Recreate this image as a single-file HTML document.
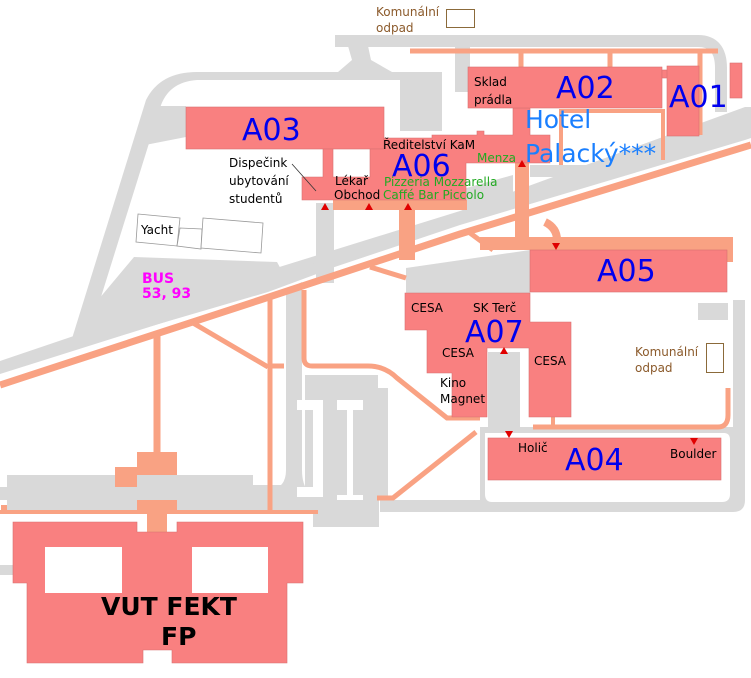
<!DOCTYPE html>
<html><head><meta charset="utf-8"><style>
html,body{margin:0;padding:0;background:#fff;}
svg{display:block;}
text{font-family:"DejaVu Sans","Liberation Sans",sans-serif;}
</style></head><body>
<svg width="751" height="678" viewBox="0 0 751 678" xmlns="http://www.w3.org/2000/svg">
<!-- GREY ROADS -->
<g fill="#d9d9d9" stroke="none">
  <path d="M335 41 L698 41 Q721 41 721 68 L721 112" fill="none" stroke="#d9d9d9" stroke-width="12"/>
  <polygon points="348,46 368,46 371,60 392,72 338,72 352,60"/>
  <rect x="197" y="72" width="245" height="8"/>
  <rect x="400" y="72" width="42" height="59"/>
  <rect x="455" y="45" width="15" height="47"/>
  <!-- left road -->
  <path d="M197 72 Q160 72 146 100 L70 345 L86 345 L160 108 Q168 82 197 80 Z"/>
  <polygon points="150,106 186,106 186,137 140,146"/>
  <!-- main diagonal road -->
  <polygon points="0,361 260,273 460,211 745,107 751,107 751,138 745,140 460,225 260,292 0,374"/>
  <!-- BUS area -->
  <polygon points="134,257 277,262 283,273 320,262 322,272 268,292 70,350 98,300"/>
  <rect x="316" y="203" width="18" height="80"/>
  <polygon points="466,188 513,175 513,200 466,215"/>
  <rect x="530" y="165" width="63" height="12"/>
  <polygon points="406,268 530,250 530,293 406,293"/>
  <path d="M286 290 L302 282 L302 470 Q302 500 330 500 L330 512 L270 512 L270 490 Q286 488 286 470 Z"/>
  <polygon points="305,375 378,375 378,388 388,388 388,500 379,500 379,527 313,527 313,510 305,505"/>
  <rect x="488" y="352" width="32" height="80"/>
  <path d="M480 427 L733 427 L733 300 L745 300 L745 500 Q745 512 733 512 L380 512 L380 500 L480 500 Z"/>
  <rect x="698" y="303" width="30" height="17"/>
  <rect x="7" y="475" width="246" height="36"/>
  <rect x="0" y="487" width="8" height="13"/>
  <rect x="250" y="485" width="40" height="27"/>
  <rect x="0" y="565" width="14" height="10"/>
</g>
<g fill="#fff">
  <path d="M485 433 L724 433 Q730 433 730 440 L730 494 Q730 502 722 502 L492 502 Q485 502 485 494 Z"/>
  <path d="M297 400 L323 400 L323 487 L323 497 L297 497 L297 487 L313 487 L313 410 L297 410 Z"/>
  <path d="M337 400 L363 400 L363 410 L353 410 L353 495 L363 495 L363 500 L337 500 L337 495 L347 495 L347 410 L337 410 Z"/>
</g>
<!-- SALMON PATHS -->
<g fill="none" stroke="#f9a283" stroke-linecap="butt">
  <polyline points="0,385 260,300 460,234 751,145" stroke-width="7"/>
  <line x1="410" y1="51" x2="718" y2="51" stroke-width="5"/>
  <line x1="521" y1="50" x2="521" y2="68" stroke-width="5"/>
  <line x1="610" y1="50" x2="610" y2="68" stroke-width="5"/>
  <line x1="700" y1="52" x2="700" y2="135" stroke-width="5"/>
  <polyline points="561,165 561,111 663,111 663,160" stroke-width="4"/>
  <line x1="522" y1="160" x2="522" y2="245" stroke-width="14"/>
  <line x1="407" y1="200" x2="407" y2="260" stroke-width="16"/>
  <line x1="333" y1="205" x2="467" y2="205" stroke-width="10"/>
  <rect x="480" y="237" width="253" height="13" fill="#f9a283" stroke="none"/>
  <line x1="730" y1="240" x2="730" y2="262" stroke-width="6"/>
  <path d="M545 222 Q557 228 557 240" stroke-width="8"/>
  <line x1="470" y1="233" x2="493" y2="250" stroke-width="5"/>
  <line x1="370" y1="267" x2="406" y2="278" stroke-width="5"/>
  <line x1="157" y1="335" x2="157" y2="455" stroke-width="7"/>
  <line x1="270" y1="295" x2="270" y2="513" stroke-width="5"/>
  <line x1="193" y1="323" x2="268" y2="367" stroke-width="5"/>
  <line x1="270" y1="366" x2="284" y2="366" stroke-width="5"/>
  <path d="M304 290 L304 358 Q304 366 312 366 L368 366 Q385 366 397 378 L447 418 L480 418" stroke-width="5"/>
  <path d="M533 427 L718 427 Q728 427 728 415 L728 388" stroke-width="5"/>
  <line x1="553" y1="417" x2="553" y2="427" stroke-width="4"/>
  <polyline points="377,498 393,498 476,432" stroke-width="5"/>
  <line x1="0" y1="512" x2="318" y2="512" stroke-width="4"/>
  <line x1="4" y1="505" x2="4" y2="512" stroke-width="6"/>
</g>
<g fill="#f9a283">
  <rect x="137" y="452" width="40" height="23"/>
  <rect x="137" y="500" width="40" height="11"/>
  <rect x="115" y="467" width="22" height="20"/>
  <rect x="147" y="511" width="20" height="22"/>
</g>
<!-- BUILDINGS -->
<g fill="#f98080" stroke="#d87070" stroke-width="0.6">
  <rect x="186" y="107" width="198" height="42"/>
  <polygon points="384,138 432,138 432,135 477,135 477,131 484,131 484,135 513,135 513,108 530,108 530,135 550,135 550,163 466,163 466,200 302,200 302,177 323,177 323,149 333,149 333,177 370,177 370,149 384,149"/>
  <rect x="468" y="67" width="194" height="41"/>
  <rect x="662" y="70" width="6" height="8"/>
  <rect x="667" y="66" width="32" height="70"/>
  <rect x="730" y="63" width="12" height="35"/>
  <rect x="530" y="250" width="197" height="42"/>
  <polygon points="405,293 530,293 530,322 571,322 571,417 529,417 529,348 487,348 487,417 452,417 452,373 427,373 427,330 405,330"/>
  <rect x="488" y="438" width="233" height="42"/>
  <polygon points="13,522 137,522 137,532 177,532 177,522 303,522 303,583 287,583 287,663 172,663 172,650 143,650 143,663 27,663 27,583 13,583"/>
</g>
<g fill="#fff">
  <rect x="45" y="547" width="77" height="46"/>
  <rect x="192" y="547" width="76" height="46"/>
</g>
<g fill="#fff" stroke="#999" stroke-width="0.8">
  <polygon points="138,214 180,218 177,246 136,242"/>
  <polygon points="180,228 202,229 201,249 177,246"/>
  <polygon points="203,218 263,223 261,253 201,248"/>
</g>
<rect x="446.5" y="9.5" width="28" height="18" fill="none" stroke="#8b6a3a" stroke-width="1"/>
<rect x="706.5" y="343.5" width="17" height="29" fill="none" stroke="#8b6a3a" stroke-width="1"/>
<line x1="292" y1="164" x2="316" y2="191" stroke="#333" stroke-width="0.8"/>
<g fill="#e00000">
  <polygon points="321,210 325,203 329,210"/>
  <polygon points="365,210 369,203 373,210"/>
  <polygon points="404,210 408,203 412,210"/>
  <polygon points="518,167 522,160 526,167"/>
  <polygon points="552,243 560,243 556,250"/>
  <polygon points="500,354 504,347 508,354"/>
  <polygon points="505,431 513,431 509,438"/>
  <polygon points="690,438 698,438 694,445"/>
</g>
<g font-size="12" fill="#000">
  <text x="229" y="167">Dispečink</text>
  <text x="229" y="185">ubytování</text>
  <text x="229" y="203">studentů</text>
  <text x="141" y="234">Yacht</text>
  <text x="383" y="149">Ředitelství KaM</text>
  <text x="335" y="185">Lékař</text>
  <text x="334" y="199">Obchod</text>
  <text x="474" y="86">Sklad</text>
  <text x="474" y="104">prádla</text>
  <text x="411" y="312">CESA</text>
  <text x="473" y="312">SK Terč</text>
  <text x="442" y="357">CESA</text>
  <text x="534" y="365">CESA</text>
  <text x="440" y="387">Kino</text>
  <text x="440" y="403">Magnet</text>
  <text x="518" y="452">Holič</text>
  <text x="670" y="458">Boulder</text>
</g>
<g font-size="12" fill="#22aa22">
  <text x="384" y="186">Pizzeria Mozzarella</text>
  <text x="383" y="199">Caffé Bar Piccolo</text>
  <text x="477" y="162">Menza</text>
</g>
<g font-size="12" fill="#8b5a2b">
  <text x="376" y="16">Komunální</text>
  <text x="376" y="32">odpad</text>
  <text x="635" y="356">Komunální</text>
  <text x="635" y="372">odpad</text>
</g>
<g font-size="30" fill="#0000ee">
  <text x="242" y="140">A03</text>
  <text x="392" y="176">A06</text>
  <text x="556" y="98">A02</text>
  <text x="669" y="107">A01</text>
  <text x="597" y="281">A05</text>
  <text x="465" y="342">A07</text>
  <text x="565" y="470">A04</text>
</g>
<g font-size="25" fill="#1a7fff">
  <text x="525" y="128">Hotel</text>
  <text x="525" y="162">Palacký***</text>
</g>
<g font-size="14" font-weight="bold" fill="#ff00ff">
  <text x="142" y="283">BUS</text>
  <text x="142" y="298">53, 93</text>
</g>
<g font-size="25" font-weight="bold" fill="#000">
  <text x="101" y="615">VUT FEKT</text>
  <text x="161" y="645">FP</text>
</g>
</svg>
</body></html>
